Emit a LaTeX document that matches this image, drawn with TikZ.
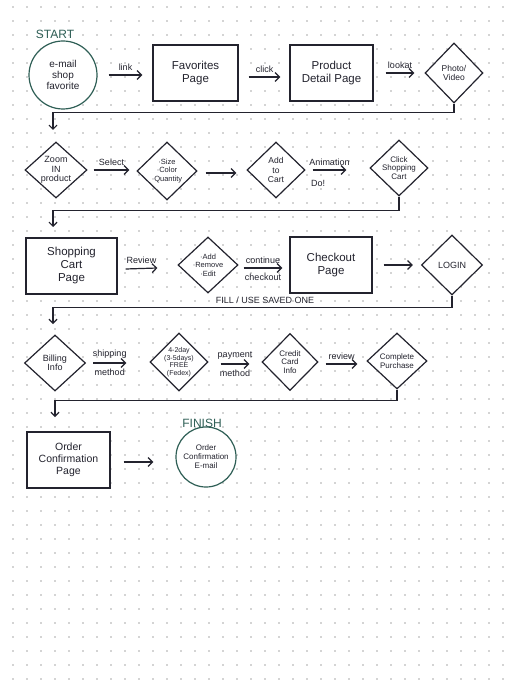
\documentclass[tikz,border=0pt]{standalone}
\usepackage{fontspec}
\setmainfont{Liberation Sans}
\usetikzlibrary{shapes.geometric,arrows.meta}
\definecolor{inkc}{HTML}{23232E}
\definecolor{tealc}{HTML}{2F5F56}
\definecolor{dotc}{HTML}{A8A8A8}
\tikzset{
  ink/.style={draw=inkc, line width=1.2pt},
  box/.style={ink, rectangle, inner sep=0pt, align=center, font=\fontsize{11.5}{13}\selectfont, text=inkc},
  dia/.style={ink, diamond, inner sep=0pt},
  dtxt/.style={align=center, font=\fontsize{8.5}{9.2}\selectfont, text=inkc, inner sep=0pt},
  circ/.style={draw=tealc, line width=1.2pt, circle, inner sep=0pt, align=center, text=inkc},
  arr/.style={draw=inkc, line width=1.2pt, -{Straight Barb[length=4.5pt,width=9pt]}},
  conn/.style={draw=inkc, line width=1.2pt, -{Straight Barb[length=4pt,width=8pt]}},
  alab/.style={font=\fontsize{9}{10}\selectfont, text=inkc, inner sep=1pt},
  tag/.style={font=\fontsize{12}{13}\selectfont, text=tealc},
}
\begin{document}
\begin{tikzpicture}[x=1pt,y=-1pt]
\fill[white] (0,0) rectangle (513,684);
\useasboundingbox (0,0) rectangle (513,684);
\foreach \x in {13,27,...,511} \foreach \y in {7,21,...,683} \fill[dotc] (\x,\y) circle (0.9);

% Row 1
\node[tag] (start) at (55,34) {START};
\node[circ, fill=white, minimum size=68pt, font=\fontsize{10}{11}\selectfont] (c1) at (63,75) {e-mail\\shop\\favorite};
\node[box, fill=white, minimum width=85pt, minimum height=56pt] (b1) at (195.5,73) {Favorites\\Page};
\node[box, fill=white, minimum width=83pt, minimum height=56pt] (b2) at (331.5,73) {Product\\Detail Page};
\node[dia, fill=white, minimum width=58pt, minimum height=60pt, label={[dtxt]center:{Photo/\\Video}}] (d1) at (454,73) {};

\draw[arr] ([xshift=11pt]c1.east) -- node[alab, above=3pt] (l1) {link} ([xshift=-10pt]c1.east -| b1.west);
\draw[arr] ([xshift=10pt,yshift=-4pt]b1.east) -- node[alab, above=3pt] (l2) {click} ([xshift=-9pt,yshift=-4pt]b2.west);
\draw[arr] ([xshift=12pt]b2.east) -- node[alab, above=3pt] (l3) {lookat} ([xshift=-10pt]b2.east -| d1.west);

\coordinate (e1) at (53,130);
\draw[conn] (d1.south) -- ++(0,9) -| (e1);

% Row 2
\node[dia, fill=white, minimum width=62pt, minimum height=56pt, label={[dtxt, font=\fontsize{9}{9.5}\selectfont]center:{Zoom\\IN\\product}}] (d2) at (56,170) {};
\node[dia, fill=white, minimum width=60pt, minimum height=58pt, label={[dtxt, font=\fontsize{7.5}{8.5}\selectfont]center:{·Size\\·Color\\·Quantity}}] (d3) at (167,171) {};
\node[dia, fill=white, minimum width=58pt, minimum height=56pt, label={[dtxt]center:{Add\\to\\Cart}}] (d4) at (276,170) {};
\node[dia, fill=white, minimum width=58pt, minimum height=56pt, label={[dtxt, font=\fontsize{8}{8.6}\selectfont]center:{Click\\Shopping\\Cart}}] (d5) at (399,168) {};

\draw[arr] ([xshift=6pt]d2.east) -- node[alab, above=3pt] (l4) {Select} ([xshift=-7pt]d2.east -| d3.west);
\draw[arr] ([xshift=8pt,yshift=-2pt]d3.east) -- ([xshift=-10pt,yshift=-2pt]d3.east -| d4.west);
\draw[arr] ([xshift=7pt]d4.east) -- node[alab, above=3pt] (l5) {Animation} ([xshift=-23pt]d4.east -| d5.west);
\node[alab] (l6) at (318,183) {Do!};

\coordinate (e2) at (53,227);
\draw[conn] (d5.south) -- ++(0,14) -| (e2);

% Row 3
\node[box, fill=white, minimum width=91pt, minimum height=56pt] (b3) at (71.5,266) {Shopping\\Cart\\Page};
\node[dia, fill=white, minimum width=60pt, minimum height=56pt, label={[dtxt, font=\fontsize{7.5}{8.5}\selectfont]center:{·Add\\·Remove\\·Edit}}] (d6) at (208,265) {};
\node[box, fill=white, minimum width=82pt, minimum height=56pt] (b4) at (331,265) {Checkout\\Page};
\node[dia, fill=white, minimum width=61pt, minimum height=60pt, label={[dtxt, font=\fontsize{9}{9.5}\selectfont]center:{LOGIN}}] (d7) at (452,265) {};

\draw[arr] ([xshift=8pt,yshift=-3pt]b3.east) -- node[alab, above=3pt] (l7) {Review} ([xshift=-20pt,yshift=-2pt]b3.east -| d6.west);
\draw[arr] ([xshift=5pt,yshift=-3pt]d6.east) -- node[alab, above=3pt] (l8) {continue} node[alab, below=4pt] (l9) {checkout} ([xshift=-7pt,yshift=-3pt]d6.east -| b4.west);
\draw[arr] ([xshift=11pt]b4.east) -- ([xshift=-8pt]b4.east -| d7.west);

\coordinate (e3) at (53,324);
\draw[conn] (d7.south) -- ++(0,12) -| (e3);
\node[alab, font=\fontsize{9}{10}\selectfont] (fill) at (265,300) {FILL / USE SAVED ONE};

% Row 4
\node[dia, fill=white, minimum width=61pt, minimum height=56pt, label={[dtxt, font=\fontsize{9}{9.5}\selectfont]center:{Billing\\Info}}] (d8) at (55,363) {};
\node[dia, fill=white, minimum width=58pt, minimum height=58pt, label={[dtxt, font=\fontsize{7}{7.6}\selectfont]center:{4-2day\\(3-5days)\\FREE\\(Fedex)}}] (d9) at (179,362) {};
\node[dia, fill=white, minimum width=56pt, minimum height=57pt, label={[dtxt, font=\fontsize{8}{8.6}\selectfont]center:{Credit\\Card\\Info}}] (d10) at (290,362) {};
\node[dia, fill=white, minimum width=60pt, minimum height=56pt, label={[dtxt, font=\fontsize{8}{9}\selectfont]center:{Complete\\Purchase}}] (d11) at (397,361) {};

\draw[arr] ([xshift=7pt]d8.east) -- node[alab, above=3pt] (l10) {shipping} node[alab, below=4pt] (l11) {method} ([xshift=-23pt]d8.east -| d9.west);
\draw[arr] ([xshift=12pt,yshift=-2pt]d9.east) -- node[alab, above=3pt] (l12) {payment} node[alab, below=4pt] (l13) {method} ([xshift=-12pt,yshift=-2pt]d9.east -| d10.west);
\draw[arr] ([xshift=7pt,yshift=-2pt]d10.east) -- node[alab, above=3pt] (l14) {review} ([xshift=-9pt,yshift=-2pt]d10.east -| d11.west);

\coordinate (e4) at (55,417);
\draw[conn] (d11.south) -- ++(0,11) -| (e4);

% Row 5
\node[box, fill=white, minimum width=83pt, minimum height=56pt, font=\fontsize{10.5}{12}\selectfont] (b5) at (68.5,460) {Order\\Confirmation\\Page};
\node[tag] (finish) at (202,423) {FINISH};
\node[circ, fill=white, minimum size=60pt, font=\fontsize{8}{9}\selectfont] (c2) at (206,457) {Order\\Confirmation\\E-mail};
\draw[arr] ([xshift=13pt,yshift=-2pt]b5.east) -- ([xshift=-22pt,yshift=-2pt]b5.east -| c2.west);
\end{tikzpicture}
\end{document}
